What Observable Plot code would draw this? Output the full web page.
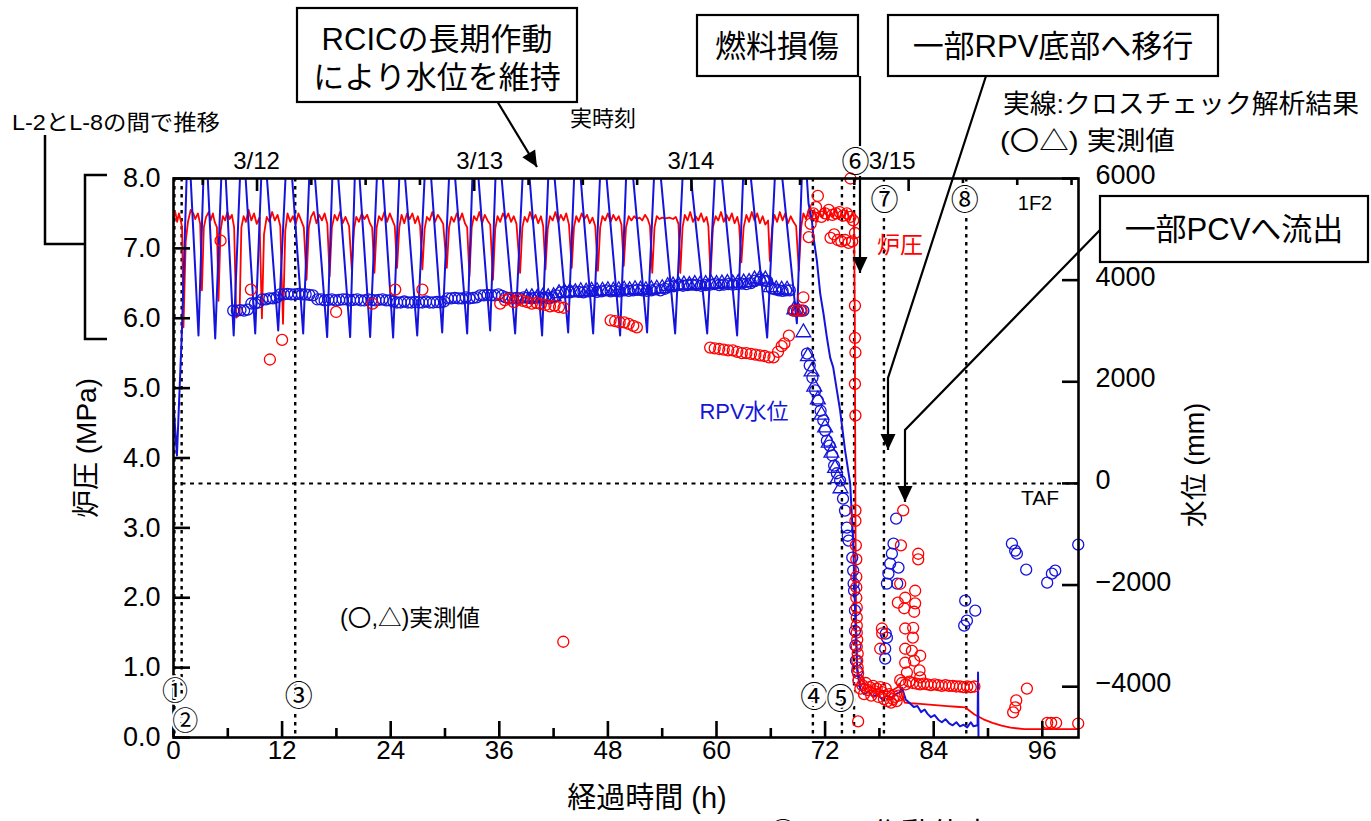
<!DOCTYPE html>
<html><head><meta charset="utf-8">
<script src="https://cdn.jsdelivr.net/npm/d3@7"></script>
<script src="https://cdn.jsdelivr.net/npm/@observablehq/plot@0.6"></script>
<style>
html,body{margin:0;padding:0;background:#fff;overflow:hidden;}
#chart svg{display:block;}
</style></head>
<body><div id="chart"></div>
<script>
// ---------------- DATA ----------------
// elapsed hours since 3/11 14:46
const xTicks = [0, 12, 24, 36, 48, 60, 72, 84, 96];
const xMinorTicks = [6, 18, 30, 42, 54, 66, 78, 90];
const pressTicks = [0, 1, 2, 3, 4, 5, 6, 7, 8];
const levelTicksMm = [6000, 4000, 2000, 0, -2000, -4000];
const realTimeDayTicks = [9.23, 33.23, 57.23, 81.23];           // 0:00 of each day
const realTimeTicks = [3.23, 15.23, 21.23, 27.23, 39.23, 45.23, 51.23, 63.23, 69.23, 75.23, 87.23, 93.23, 99.23];
const dateLabels = ["3/12", "3/13", "3/14", "3/15"];
const eventNames = ["①", "②", "③", "④", "⑤", "⑥", "⑦", "⑧"];
const eventTimes = [0.1, 0.9, 13.45, 70.65, 73.86, 75.2, 78.5, 87.6];

// analysis: RPV water level (mm)
const calcLevel = [
[0,1570],[0.38,550],[0.93,3000],[1.62,7000],[2.76,2910],[3.5,7100],[4.61,2850],[5.49,7000],[6.65,2910],[7.59,7100],
[9.03,2950],[9.91,7000],[11.57,3010],[12.67,7100],[14.33,2950],[15.21,7000],[16.98,2880],[17.75,7100],[19.52,2880],[20.19,7000],
[21.73,2880],[22.73,7100],[24.27,2870],[25.16,7000],[26.93,2910],[28.03,7100],[29.69,2970],[30.69,7000],[32.45,2950],[33.23,7100],
[34.99,3010],[35.77,7000],[37.75,2950],[38.86,7100],[40.73,2910],[41.62,7000],[43.61,2970],[44.5,7100],[46.37,2950],[47.37,7000],
[49.35,2910],[50.24,7100],[52.33,2970],[53.34,7000],[55.43,2950],[56.54,7100],[58.97,2950],[60.08,7000],[62.28,2910],[63.17,7100],
[65.6,2870],[66.71,7000],[68.88,3150],[69.61,7000],[70.17,5508],[70.54,5173],[70.72,4839],[71.09,4386],[71.46,3736],[71.82,3343],
[72.2,2870],[72.56,2476],[72.9,2280],[73.66,1433],[74.21,646],[74.77,0],[75.1,-1126],[75.32,-2563],[75.55,-3685],[75.88,-4040],
[76.3,-4150],[76.8,-4100],[77.3,-4200],[77.8,-4150],[78.3,-4250],[78.8,-4180],[79.3,-4220],[79.8,-4150],[80.3,-4100],[80.5,-4020],
[80.9,-4250],[81.4,-4330],[81.8,-4400],[82.2,-4380],[82.6,-4500],[83.0,-4450],[83.3,-4530],[83.7,-4600],[84.1,-4560],[84.5,-4650],
[84.9,-4700],[85.3,-4640],[85.7,-4720],[86.1,-4760],[86.5,-4700],[86.9,-4780],[87.3,-4750],[87.7,-4800],[88.1,-4700],[88.4,-4780],
[88.85,-4760],[88.9,-3720],[88.95,-5000]
];

// analysis: reactor pressure (MPa)
const calcPress = [
[0,7.44],[0.2,7.52],[0.4,7.38],[0.6,7.5],[0.8,7.4],[0.95,7.3],[1.1,5.87],[1.35,7.1],[1.6,7.38],[1.9,7.55],
[2.2,7.5],[2.4,7.42],[2.7,7.5],[2.95,7.35],[3.14,6.4],[3.35,7.3],[3.6,7.45],[3.9,7.52],[4.1,7.4],[4.35,7.5],
[4.55,7.38],[4.8,7.3],[4.97,6.25],[5.2,7.25],[5.45,7.46],[5.7,7.4],[5.95,7.52],[6.2,7.42],[6.45,7.48],[6.7,7.3],
[6.93,6.01],[7.3,6.05],[7.5,7.3],[7.75,7.46],[8.0,7.38],[8.3,7.55],[8.6,7.4],[8.9,7.5],[9.2,7.35],[9.5,7.44],
[9.77,6.0],[10.0,7.2],[10.3,7.45],[10.6,7.38],[10.9,7.52],[11.2,7.4],[11.5,7.48],[11.8,7.32],[12.1,5.92],[12.35,7.25],
[12.6,7.5],[12.9,7.38],[13.2,7.46],[13.5,7.35],[13.8,7.5],[14.1,7.4],[14.4,7.3],[14.7,6.55],[14.95,7.3],[15.2,7.45],
[15.5,7.52],[15.8,7.36],[16.1,7.48],[16.4,7.4],[16.7,7.5],[17.0,7.35],[17.25,6.6],[17.5,7.3],[17.8,7.48],[18.1,7.4],
[18.4,7.52],[18.7,7.36],[19.0,7.45],[19.4,7.32],[19.7,6.7],[19.95,7.28],[20.2,7.45],[20.5,7.38],[20.8,7.5],[21.1,7.42],
[21.4,7.48],[21.7,7.36],[21.95,7.3],[22.2,6.65],[22.45,7.3],[22.7,7.46],[23.0,7.4],[23.3,7.52],[23.6,7.38],[23.9,7.5],
[24.2,7.4],[24.45,7.32],[24.7,6.72],[24.95,7.3],[25.2,7.48],[25.5,7.36],[25.8,7.5],[26.1,7.42],[26.4,7.5],[26.7,7.36],
[27.0,7.46],[27.25,7.32],[27.5,6.7],[27.75,7.28],[28.0,7.45],[28.3,7.4],[28.6,7.52],[28.9,7.38],[29.2,7.48],[29.5,7.42],
[29.8,7.35],[30.2,6.72],[30.45,7.3],[30.7,7.45],[31.0,7.38],[31.3,7.5],[31.6,7.4],[31.9,7.5],[32.2,7.36],[32.45,7.3],
[32.7,6.6],[32.95,7.3],[33.2,7.46],[33.5,7.4],[33.8,7.52],[34.1,7.36],[34.4,7.48],[34.7,7.4],[35.0,7.34],[35.3,6.55],
[35.55,7.28],[35.8,7.46],[36.1,7.38],[36.4,7.5],[36.7,7.42],[37.0,7.5],[37.3,7.38],[37.6,7.46],[37.9,7.35],[38.3,6.65],
[38.55,7.3],[38.8,7.45],[39.1,7.38],[39.4,7.52],[39.7,7.4],[40.0,7.48],[40.3,7.36],[40.6,7.46],[40.85,7.32],[41.1,6.7],
[41.35,7.28],[41.6,7.46],[41.9,7.4],[42.2,7.52],[42.5,7.38],[42.8,7.48],[43.1,7.4],[43.4,7.5],[43.7,7.34],[44.0,6.72],
[44.25,7.3],[44.5,7.46],[44.8,7.38],[45.1,7.5],[45.4,7.42],[45.7,7.48],[46.0,7.36],[46.3,7.44],[46.6,7.32],[46.9,6.68],
[47.15,7.3],[47.4,7.46],[47.7,7.4],[48.0,7.5],[48.3,7.38],[48.6,7.48],[48.9,7.4],[49.2,7.46],[49.5,7.34],[49.75,6.75],
[50.0,7.3],[50.3,7.46],[50.6,7.4],[50.9,7.46],[51.2,7.42],[51.5,7.44],[51.8,7.4],[52.1,7.48],[52.4,7.42],[52.65,7.32],
[52.9,6.65],[53.15,7.3],[53.4,7.46],[53.7,7.42],[54.0,7.44],[54.4,7.43],[54.8,7.44],[55.2,7.42],[55.5,7.45],[55.8,7.35],
[56.0,6.65],[56.25,7.3],[56.5,7.48],[56.8,7.4],[57.1,7.52],[57.4,7.38],[57.7,7.46],[58.0,7.4],[58.3,7.5],[58.6,7.38],
[58.9,7.45],[59.1,7.32],[59.35,6.62],[59.6,7.3],[59.9,7.46],[60.2,7.4],[60.5,7.52],[60.8,7.38],[61.1,7.48],[61.4,7.4],
[61.7,7.5],[62.0,7.36],[62.3,7.45],[62.5,7.33],[62.75,6.8],[63.0,7.3],[63.3,7.48],[63.6,7.38],[63.9,7.52],[64.2,7.4],
[64.5,7.5],[64.8,7.36],[65.1,7.46],[65.4,7.34],[65.7,7.4],[65.9,6.82],[66.15,7.3],[66.4,7.48],[66.7,7.38],[67.0,7.52],
[67.3,7.4],[67.6,7.5],[67.9,7.36],[68.2,7.46],[68.5,7.38],[68.8,7.32],[69.1,6.68],[69.35,7.3],[69.6,7.5],[69.9,7.42],
[70.2,7.56],[70.5,7.4],[70.8,7.55],[71.1,7.38],[71.4,7.52],[71.7,7.44],[72.0,7.58],[72.3,7.4],[72.6,7.52],[72.9,7.45],
[73.2,7.56],[73.5,7.42],[73.8,7.5],[74.1,7.44],[74.4,7.55],[74.7,7.4],[75.0,7.5],[75.2,7.45],[75.28,6.0],[75.36,3.0],
[75.44,1.5],[75.55,1.0],[75.7,0.9],[76.0,0.82],[76.5,0.76],[77.0,0.72],[77.5,0.7],[78.0,0.68],[78.5,0.66],[79.0,0.66],
[79.5,0.68],[80.0,0.72],[80.2,0.77],[80.5,0.6],[80.8,0.5],[81.5,0.49],[82.5,0.48],[83.5,0.47],[84.5,0.46],[85.5,0.45],
[86.5,0.44],[87.5,0.43],[88.5,0.33],[89.5,0.26],[90.5,0.21],[91.5,0.17],[92.5,0.14],[94.0,0.12],[100,0.12]
];

// measured water level, circles (mm)
const measLevelCirc = [
[6.6,3400],[7.0,3400],[7.4,3410],[7.8,3400],[8.2,3420],[8.6,3540],[9.0,3540],[9.4,3560],[9.8,3620],[10.2,3620],
[10.6,3640],[11.0,3640],[11.4,3660],[11.8,3720],[12.2,3720],[12.6,3730],[13.0,3720],[13.4,3720],[13.8,3730],[14.2,3720],
[14.6,3720],[15.0,3710],[15.4,3700],[15.9,3620],[16.3,3620],[16.7,3600],[17.1,3610],[17.5,3620],[17.9,3600],[18.3,3610],
[18.7,3620],[19.1,3620],[19.5,3600],[19.9,3610],[20.3,3620],[20.7,3600],[21.1,3600],[21.5,3620],[21.9,3610],[22.3,3600],
[22.7,3610],[23.1,3620],[23.5,3600],[23.9,3600],[24.3,3580],[24.7,3560],[25.1,3560],[25.5,3580],[25.9,3560],[26.3,3560],
[26.7,3570],[27.1,3560],[27.5,3560],[27.9,3580],[28.3,3560],[28.7,3560],[29.1,3570],[29.5,3560],[29.9,3580],[30.3,3640],
[30.7,3640],[31.1,3650],[31.5,3640],[31.9,3640],[32.3,3660],[32.7,3640],[33.1,3650],[33.5,3660],[33.9,3700],[34.3,3700],
[34.7,3710],[35.1,3700],[35.5,3700],[35.9,3720],[36.3,3690],[36.7,3660],[37.1,3650],[37.5,3640],[37.9,3650],[38.3,3640],
[38.7,3660],[39.1,3650],[39.5,3640],[39.9,3650],[40.3,3660],[40.7,3650],[41.1,3660],[41.5,3640],[41.9,3660],[42.3,3700],
[42.8,3760],[43.3,3770],[43.8,3760],[44.3,3780],[44.8,3770],[45.3,3760],[45.8,3780],[46.3,3790],[46.8,3770],[47.3,3780],
[47.8,3800],[48.3,3780],[48.8,3790],[49.3,3780],[49.8,3800],[50.3,3790],[50.8,3800],[51.3,3810],[51.8,3800],[52.3,3790],
[52.8,3800],[53.3,3820],[53.8,3800],[54.3,3830],[54.8,3880],[55.3,3880],[55.8,3900],[56.3,3890],[56.8,3900],[57.3,3910],
[57.8,3900],[58.3,3890],[58.8,3900],[59.3,3910],[59.8,3920],[60.3,3900],[60.8,3910],[61.3,3920],[61.8,3910],[62.3,3920],
[62.8,3930],[63.3,3920],[63.8,3940],[64.3,3990],[64.8,4010],[65.2,3990],[65.6,3980],[66.1,3840],[66.5,3820],[66.9,3800],
[67.3,3790],[67.7,3800],[68.1,3800],[68.5,3400],[68.9,3400],[69.3,3400],[69.6,3400],
[70.0,2555],[70.3,2320],[70.6,2080],[70.9,1830],[71.2,1630],[71.5,1430],[71.8,1240],[72.0,1040],[72.2,840],[72.5,745],
[72.8,550],[73.0,350],[73.3,200],[73.66,55],[73.98,-300],[74.2,-535],[74.4,-870],[74.5,-1030],[74.6,-1126],[75.0,-1460],
[75.1,-1715],[75.15,-1970],[75.2,-2110],[75.3,-2500],[75.3,-2900],[75.35,-3190],[75.4,-3490],[75.55,-3690],[75.7,-3880],
[78.64,-3252],[78.64,-3449],[78.83,-1972],[78.83,-3035],[78.7,-2957],[79.0,-1776],[79.19,-1579],[79.38,-1382],[79.56,-1185],
[79.85,-693],[79.97,-1972],[80.11,-1657],[87.37,-2799],[87.48,-2307],[87.67,-2701],[88.59,-2504],
[92.64,-1185],[93.0,-1323],[93.19,-1382],[94.22,-1697],[96.54,-1953],[97.06,-1776],[97.43,-1717],[99.97,-1205]
];

// measured water level, triangles (mm)
const measLevelTri = [
[39.0,3650],[39.6,3660],[40.2,3650],[40.8,3670],[41.4,3660],[42.0,3680],[42.6,3740],[43.2,3760],[43.8,3770],[44.4,3760],
[45.0,3780],[45.6,3770],[46.2,3790],[46.8,3780],[47.4,3790],[48.0,3800],[48.6,3790],[49.2,3800],[49.8,3810],[50.4,3800],
[51.0,3820],[51.6,3810],[52.2,3800],[52.8,3820],[53.4,3830],[54.0,3840],[54.6,3880],[55.2,3890],[55.8,3900],[56.4,3910],
[57.0,3900],[57.6,3920],[58.2,3910],[58.8,3920],[59.4,3930],[60.0,3920],[60.6,3930],[61.2,3940],[61.8,3930],[62.4,3940],
[63.0,3950],[63.6,3960],[64.2,4010],[64.8,4030],[65.4,4010],[66.0,3860],[66.6,3820],[67.2,3810],[67.8,3810],[68.6,3420],
[69.0,3400],[69.6,2970],[70.1,2500],[70.5,2200],[70.8,1900],[71.2,1650],[71.6,1350],[72.0,1100],[72.4,800],[72.7,600],
[73.1,300],[73.4,100],[73.7,-100]
];

// measured reactor pressure (MPa)
const measPress = [
[5.2,7.11],[8.55,6.41],[10.65,5.41],[12.0,5.69],[17.97,6.09],[22.0,6.21],[24.5,6.41],[27.5,6.41],
[36.1,6.21],[36.6,6.26],[37.1,6.28],[37.6,6.23],[38.1,6.27],[38.6,6.25],[39.1,6.23],[39.6,6.21],[40.1,6.22],[40.6,6.2],
[41.1,6.19],[41.6,6.17],[42.1,6.18],[42.6,6.16],[43.1,6.15],[43.07,1.37],
[48.3,5.97],[48.8,5.96],[49.3,5.94],[49.8,5.94],[50.3,5.92],[50.8,5.89],[51.2,5.87],
[59.3,5.58],[59.8,5.57],[60.3,5.56],[60.8,5.55],[61.3,5.54],[61.8,5.54],[62.3,5.52],[62.8,5.5],[63.3,5.5],[63.8,5.49],
[64.3,5.48],[64.8,5.47],[65.3,5.46],[65.8,5.44],[66.3,5.44],[66.8,5.52],[67.2,5.6],[67.5,5.64],[68.0,5.75],[68.6,6.11],
[69.0,6.11],[69.4,6.11],[69.6,6.3],
[70.2,7.16],[70.4,7.35],[70.7,7.5],[71.0,7.59],[71.2,7.75],[71.6,7.45],[72.0,7.5],[72.4,7.55],[72.8,7.48],[73.2,7.5],
[73.6,7.52],[74.0,7.47],[74.4,7.5],[74.8,7.45],[75.1,7.4],[72.6,7.15],[73.0,7.2],[73.4,7.12],[73.8,7.1],[74.2,7.12],
[74.6,7.08],[75.0,7.1],[75.3,7.22],[74.8,8.0],
[75.3,6.18],[75.3,5.72],[75.35,5.51],[75.3,5.06],[75.35,4.61],[75.35,3.25],[75.35,3.1],[75.4,2.75],[75.45,2.55],[75.45,2.3],
[75.45,2.15],[75.45,2.0],[75.5,1.86],[75.5,1.72],[75.5,1.6],[75.5,1.5],[75.55,1.4],[75.5,1.3],[75.6,1.2],[75.55,1.1],
[75.6,1.0],[75.65,0.92],
[75.7,0.82],[75.9,0.7],[76.1,0.75],[76.3,0.62],[76.5,0.78],[76.7,0.68],[76.9,0.72],[77.1,0.6],[77.3,0.74],[77.5,0.66],
[77.7,0.7],[77.9,0.58],[78.1,0.72],[78.3,0.65],[78.5,0.55],[78.7,0.7],[78.9,0.52],[79.1,0.62],[79.3,0.5],[79.5,0.55],
[79.7,0.58],[79.9,0.52],[80.1,0.6],[80.3,0.82],
[80.5,0.78],[80.9,0.76],[81.3,0.8],[81.7,0.78],[82.1,0.77],[82.5,0.76],[82.9,0.77],[83.3,0.76],[83.7,0.75],[84.1,0.76],
[84.5,0.75],[84.9,0.74],[85.3,0.75],[85.7,0.74],[86.1,0.74],[86.5,0.73],[86.9,0.73],[87.3,0.72],[87.7,0.73],[88.1,0.72],
[88.5,0.73],
[80.63,3.25],[80.38,2.75],[82.29,2.63],[82.29,2.55],[80.3,2.2],[81.95,2.1],[80.85,2.0],[80.04,1.93],[81.95,1.92],[80.74,1.85],
[81.84,1.8],[78.28,1.56],[78.31,1.49],[80.85,1.56],[81.73,1.57],[81.7,1.43],[78.09,1.27],[80.85,1.27],[81.59,1.24],[82.51,1.17],
[80.85,1.07],[81.84,1.1],[81.04,0.93],[82.43,0.96],[82.51,0.86],
[94.3,0.7],[93.12,0.53],[93.01,0.43],[92.78,0.36],[96.54,0.21],[96.98,0.21],[97.53,0.21],[99.97,0.2],[75.65,0.23]
];

// ---------------- CHART ----------------
const FONT = '"Liberation Sans", Arial, "Noto Sans CJK JP", sans-serif';
const CJK = '"Noto Sans CJK JP", sans-serif';
const W = 1371, H = 821, ML = 173, MR = 293, MT = 178, MB = 84;
const FW = W - ML - MR, FH = H - MT - MB;
const toY = mm => (mm + 5000) * 8 / 11000;      // right axis (mm) -> left scale (MPa)
const fromY = y => Math.round(y * 11000 / 8 - 5000);
const fmtMm = v => (v < 0 ? "\u2212" + Math.abs(v) : String(v));
const BLUE = "#1414dc", RED = "#ff0000";

const chart = Plot.plot({
  width: W, height: H,
  marginLeft: ML, marginRight: MR, marginTop: MT, marginBottom: MB,
  style: {fontFamily: FONT, background: "white", overflow: "visible"},
  x: {domain: [0, 100], axis: null},
  y: {domain: [0, 8], axis: null},
  marks: [
    Plot.ruleX(eventTimes, {stroke: "black", strokeWidth: 2.4, strokeDasharray: "3.5,4.5"}),
    Plot.ruleY([toY(0)], {stroke: "black", strokeWidth: 2, strokeDasharray: "4,4.5"}),
    Plot.line(calcPress, {x: d => d[0], y: d => d[1], stroke: RED, strokeWidth: 1.8, clip: true}),
    Plot.line(calcLevel, {x: d => d[0], y: d => toY(d[1]), stroke: BLUE, strokeWidth: 2, clip: true}),
    Plot.dot(measLevelCirc, {x: d => d[0], y: d => toY(d[1]), r: 5.5, stroke: BLUE, strokeWidth: 1.3, fill: "none"}),
    Plot.dot(measLevelTri, {x: d => d[0], y: d => toY(d[1]), r: 5.5, symbol: "triangle", stroke: BLUE, strokeWidth: 1.3, fill: "none"}),
    Plot.dot(measPress, {x: d => d[0], y: d => d[1], r: 5.5, stroke: RED, strokeWidth: 1.3, fill: "none"}),
    Plot.frame({stroke: "black", strokeWidth: 2.6}),
    Plot.tickY(pressTicks, {y: d => d, insetRight: FW - 17, stroke: "black", strokeWidth: 2.6}),
    Plot.tickY(levelTicksMm.map(toY), {y: d => d, insetLeft: FW - 16, stroke: "black", strokeWidth: 2.6}),
    Plot.tickX(xTicks, {x: d => d, insetTop: FH - 16, stroke: "black", strokeWidth: 2.6}),
    Plot.tickX(xMinorTicks, {x: d => d, insetTop: FH - 9, stroke: "black", strokeWidth: 2.6}),
    Plot.tickX(realTimeDayTicks, {x: d => d, insetBottom: FH - 13, stroke: "black", strokeWidth: 2.6}),
    Plot.tickX(realTimeTicks, {x: d => d, insetBottom: FH - 7, stroke: "black", strokeWidth: 2.6}),
    Plot.axisY(pressTicks, {anchor: "left", tickSize: 0, tickPadding: 13, tickFormat: d => d.toFixed(1), fontSize: 27, fill: "black", label: null}),
    Plot.axisY(levelTicksMm.map(toY), {anchor: "right", tickSize: 0, tickPadding: 17, dy: -3, tickFormat: d => fmtMm(fromY(d)), fontSize: 27, fill: "black", label: null}),
    Plot.axisX(xTicks, {anchor: "bottom", tickSize: 0, tickPadding: 3, fontSize: 26, fill: "black", label: null})
  ]
});
document.getElementById("chart").append(chart);

// ---------------- ANNOTATIONS ----------------
const sx = chart.scale("x");
const svg = d3.select(chart);
const g = svg.append("g").attr("font-family", FONT).attr("fill", "black");

function txt(s, x, y, size, opt = {}) {
  const t = g.append("text").attr("x", x).attr("y", y).attr("font-size", size)
    .attr("text-anchor", opt.anchor || "middle").attr("dominant-baseline", "central")
    .attr("fill", opt.fill || "black").text(s);
  if (opt.family) t.attr("font-family", opt.family);
  if (opt.len) t.attr("textLength", opt.len).attr("lengthAdjust", "spacingAndGlyphs");
  if (opt.rotate) t.attr("transform", `rotate(${opt.rotate},${x},${y})`);
  if (opt.halo) t.attr("stroke", "white").attr("stroke-width", opt.halo).attr("paint-order", "stroke").attr("stroke-linejoin", "round");
  return t;
}
function box(x0, y0, x1, y1) {
  g.append("rect").attr("x", x0).attr("y", y0).attr("width", x1 - x0).attr("height", y1 - y0)
    .attr("fill", "white").attr("stroke", "black").attr("stroke-width", 2.2);
}
function leader(points, head) {
  g.append("path").attr("d", d3.line()(points)).attr("fill", "none").attr("stroke", "black").attr("stroke-width", 2.2);
  if (head) {
    const [x1, y1] = points[points.length - 2], [x2, y2] = points[points.length - 1];
    const a = Math.atan2(y2 - y1, x2 - x1), L = 16, Wd = 7.5;
    const bx = x2 - L * Math.cos(a), by = y2 - L * Math.sin(a);
    g.append("path").attr("d", `M${x2},${y2}L${bx + Wd * Math.sin(a)},${by - Wd * Math.cos(a)}L${bx - Wd * Math.sin(a)},${by + Wd * Math.cos(a)}Z`).attr("fill", "black");
  }
}

// axis titles
txt("炉圧 (MPa)", 86, 448, 28, {rotate: -90});
txt("水位 (mm)", 1195, 465, 27, {rotate: -90});
txt("経過時間 (h)", 647, 798, 29);

// date labels on real-time axis
const dateNudge = [0, 6, 0, -16];
dateLabels.forEach((s, i) => txt(s, sx.apply(realTimeDayTicks[i]) + dateNudge[i], 160, 24));
txt("実時刻", 603, 118, 22);

// L-2 / L-8 bracket
txt("L-2とL-8の間で推移", 12, 122, 22, {anchor: "start", len: 208});
g.append("path").attr("d", "M45,135V244H85M107,175H85V339H107").attr("fill", "none").attr("stroke", "black").attr("stroke-width", 2.5);

// event labels
const evLabelY = [688, 718, 694, 695, 697, 160, 198, 198];
const evNudge = [1, 4, 4, 2, -1, 2, 1, -1];
const evSize = [26, 26, 28, 28, 28, 28, 28, 28];
eventNames.forEach((s, i) => txt(s, sx.apply(eventTimes[i]) + evNudge[i], evLabelY[i], evSize[i], {family: CJK, halo: i === 5 ? 0 : 4}));

// inline labels
txt("1F2", 1035, 203, 20);
txt("炉圧", 900, 245, 23, {fill: RED});
txt("RPV水位", 744, 411, 22, {fill: BLUE});
txt("TAF", 1040, 497, 21);
txt("(〇,△)実測値", 410, 618, 23, {len: 140});
txt("実線:クロスチェック解析結果", 1003, 104, 26, {anchor: "start", len: 356});
txt("(〇△) 実測値", 1000, 141, 26, {anchor: "start", len: 175});
txt("④RCIC作動停止", 768, 833, 30, {anchor: "start"});

// callout boxes
leader([[497, 101], [537, 167]], true);
box(297, 8, 577, 102);
txt("RCICの長期作動", 437, 39, 31);
txt("により水位を維持", 437, 77, 31);

leader([[860, 76], [860, 146]], false);
leader([[860, 176], [860, 273]], true);
box(697, 15, 858, 76);
txt("燃料損傷", 777, 46, 31);

leader([[986, 76], [888, 378], [888, 450]], true);
box(888, 15, 1218, 76);
txt("一部RPV底部へ移行", 1053, 46, 31);

leader([[1100, 230], [905, 430], [905, 502]], true);
box(1100, 196, 1368, 262);
txt("一部PCVへ流出", 1234, 229, 31);
</script>
</body></html>
